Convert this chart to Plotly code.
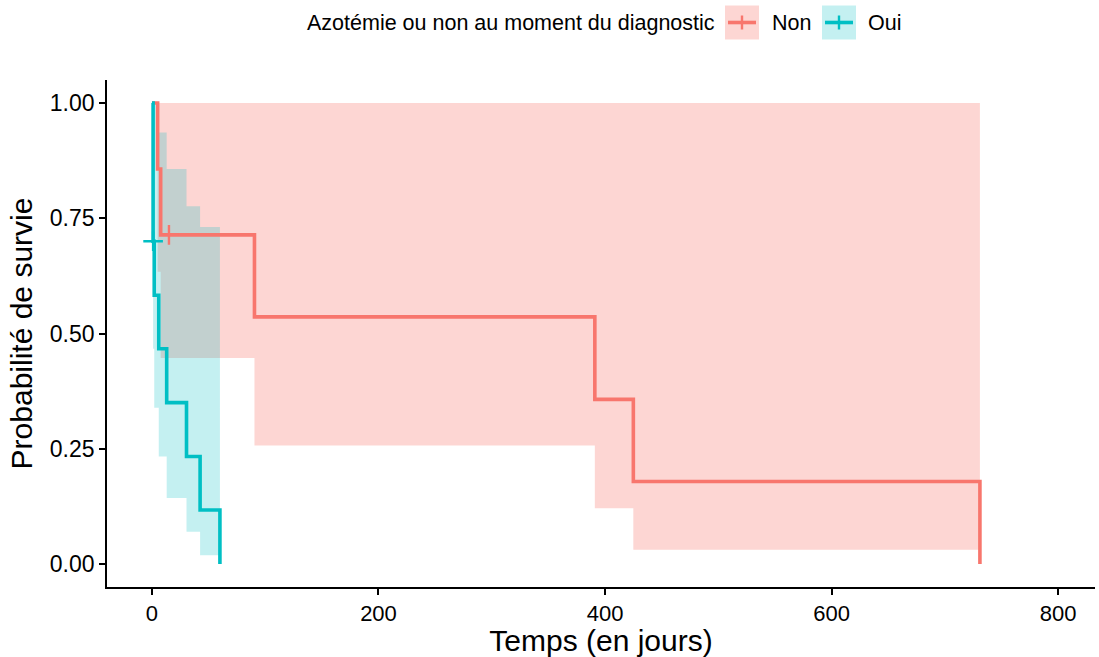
import plotly.graph_objects as go

# ---------------- data ----------------
groups = ["Non", "Oui"]
legend_title = "Azotémie ou non au moment du diagnostic"

non_time = [0, 5, 7.7, 90.5, 391, 425, 731]
non_surv = [1.0, 0.857, 0.714, 0.536, 0.357, 0.179, 0.0]
non_ci_time = [5, 7.7, 90.5, 391, 425, 731]
non_ci_lower = [0.634, 0.447, 0.257, 0.121, 0.031, 0.031]
non_ci_upper = [1.0, 1.0, 1.0, 1.0, 1.0, 1.0]
non_cens_time = [15]
non_cens_surv = [0.714]

oui_time = [0, 1, 2, 6, 13, 30.5, 42.5, 60]
oui_surv = [1.0, 0.7, 0.583, 0.467, 0.35, 0.233, 0.117, 0.0]
oui_ci_time = [1, 2, 6, 13, 30.5, 42.5, 60]
oui_ci_lower = [0.467, 0.339, 0.233, 0.143, 0.070, 0.019, 0.019]
oui_ci_upper = [1.0, 1.0, 0.936, 0.857, 0.776, 0.731, 0.731]
oui_cens_time = [1]
oui_cens_surv = [0.7]

x_ticks = [0, 200, 400, 600, 800]
y_ticks = [0.0, 0.25, 0.5, 0.75, 1.0]
y_tick_labels = ["0.00", "0.25", "0.50", "0.75", "1.00"]

x_title = "Temps (en jours)"
y_title = "Probabilité de survie"

# ---------------- style ----------------
RED = "#F8766D"
CYAN = "#00BFC4"
RED_FILL = "rgba(248,118,109,0.3)"
CYAN_FILL = "rgba(0,191,196,0.23)"
FONT = "Liberation Sans, Arial, sans-serif"

W, H = 1099, 657
L, R, T, B = 107, 4, 80, 70
PW, PH = W - L - R, H - T - B


def px(xp):
    return (xp - L) / PW


def py(yp):
    return (T + PH - yp) / PH


fig = go.Figure()

# confidence ribbons
for t, lo, up, fc in [
    (non_ci_time, non_ci_lower, non_ci_upper, RED_FILL),
    (oui_ci_time, oui_ci_lower, oui_ci_upper, CYAN_FILL),
]:
    fig.add_trace(go.Scatter(x=t, y=up, mode="lines", line=dict(width=0, shape="hv"),
                             showlegend=False, hoverinfo="skip"))
    fig.add_trace(go.Scatter(x=t, y=lo, mode="lines", line=dict(width=0, shape="hv"),
                             fill="tonexty", fillcolor=fc, showlegend=False, hoverinfo="skip"))

# survival curves
for t, s, c, name in [(non_time, non_surv, RED, groups[0]), (oui_time, oui_surv, CYAN, groups[1])]:
    fig.add_trace(go.Scatter(x=t, y=s, mode="lines", name=name,
                             line=dict(color=c, width=3.6, shape="hv"), showlegend=False))

# censor marks
for t, s, c in [(non_cens_time, non_cens_surv, RED), (oui_cens_time, oui_cens_surv, CYAN)]:
    fig.add_trace(go.Scatter(x=t, y=s, mode="markers", showlegend=False,
                             marker=dict(symbol="cross-thin", size=14,
                                         line=dict(color=c, width=2.4))))

# ---------------- manual legend (top) ----------------
shapes = []
annotations = []
annotations.append(dict(text=legend_title, x=px(305), y=py(23), xref="paper", yref="paper",
                        xanchor="left", yanchor="middle", showarrow=False,
                        font=dict(family=FONT, size=21.5, color="#000000")))
for (x0, lx, label, col, fill) in [(725, 770, groups[0], RED, RED_FILL),
                                   (822, 866, groups[1], CYAN, CYAN_FILL)]:
    shapes.append(dict(type="rect", xref="paper", yref="paper",
                       x0=px(x0), x1=px(x0 + 34), y0=py(39.5), y1=py(5.5),
                       fillcolor=fill, line=dict(width=0)))
    shapes.append(dict(type="line", xref="paper", yref="paper",
                       x0=px(x0 + 3), x1=px(x0 + 31), y0=py(22.5), y1=py(22.5),
                       line=dict(color=col, width=3.6)))
    shapes.append(dict(type="line", xref="paper", yref="paper",
                       x0=px(x0 + 17), x1=px(x0 + 17), y0=py(15.5), y1=py(29.5),
                       line=dict(color=col, width=2.4)))
    annotations.append(dict(text=label, x=px(lx), y=py(23), xref="paper", yref="paper",
                            xanchor="left", yanchor="middle", showarrow=False,
                            font=dict(family=FONT, size=21.5, color="#000000")))

fig.update_layout(
    width=W, height=H,
    margin=dict(l=L, r=R, t=T, b=B, pad=0, autoexpand=False),
    paper_bgcolor="white", plot_bgcolor="white",
    font=dict(family=FONT, color="#000000"),
    showlegend=False,
    shapes=shapes,
    annotations=annotations,
    xaxis=dict(range=[-39.7, 832.6], tickvals=x_ticks, showgrid=False, zeroline=False,
               automargin=False,
               showline=True, linecolor="black", linewidth=1.8,
               ticks="outside", ticklen=6, tickwidth=1.5, tickcolor="black",
               tickfont=dict(family=FONT, size=22, color="#000000"),
               title=dict(text=x_title, font=dict(family=FONT, size=30, color="#000000"),
                          standoff=9)),
    yaxis=dict(range=[-0.05, 1.05], tickvals=y_ticks, ticktext=y_tick_labels,
               showgrid=False, zeroline=False, automargin=False,
               showline=True, linecolor="black", linewidth=1.8,
               ticks="outside", ticklen=6, tickwidth=1.5, tickcolor="black",
               tickfont=dict(family=FONT, size=23, color="#000000"),
               title=dict(text=y_title, font=dict(family=FONT, size=30, color="#000000"),
                          standoff=8)),
)

fig.write_html("out.html",
               config={"displayModeBar": False},
               post_script="document.body.style.margin='0px';"
                           "document.documentElement.style.overflow='hidden';")
